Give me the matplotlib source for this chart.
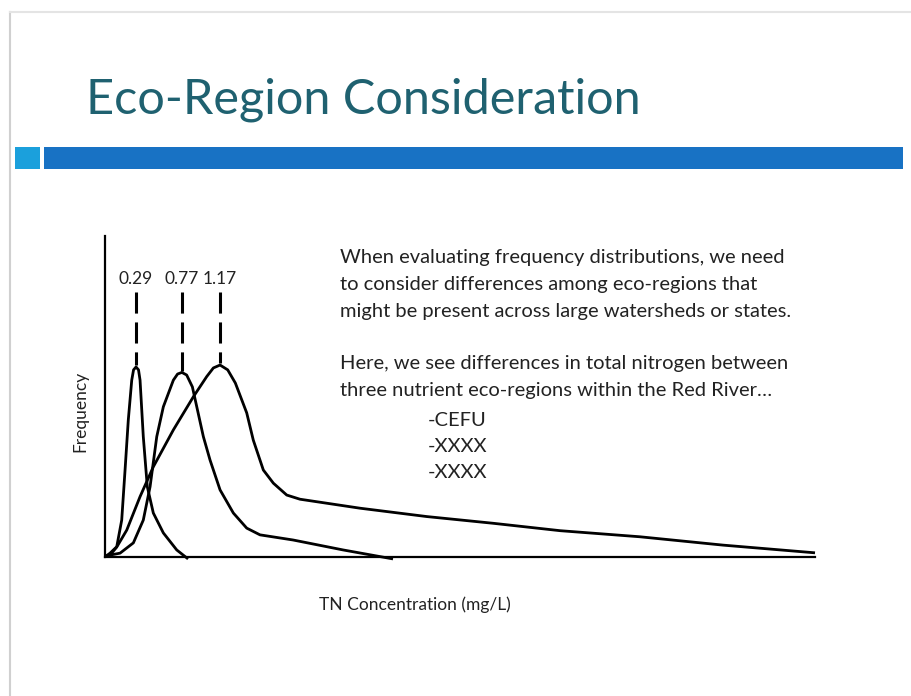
import matplotlib
matplotlib.use("Agg")
import matplotlib.pyplot as plt
import matplotlib.lines as mlines
import matplotlib.patches as mpatches

W, H = 912, 696

# TN concentration (mg/L) vs relative frequency
cefu_x = [-0.024, 0.018, 0.088, 0.140, 0.175, 0.209, 0.245, 0.264, 0.290, 0.316,
          0.332, 0.366, 0.408, 0.471, 0.576, 0.716, 0.835]
cefu_y = [0.003, 0.012, 0.032, 0.115, 0.271, 0.427, 0.551, 0.583, 0.592, 0.583,
          0.551, 0.375, 0.219, 0.137, 0.075, 0.022, -0.006]

mid_x = [-0.024, 0.018, 0.123, 0.262, 0.366, 0.437, 0.507, 0.576, 0.681, 0.725,
         0.770, 0.820, 0.880, 0.926, 0.995, 1.065, 1.170, 1.309, 1.449, 1.588,
         1.934, 2.458, 2.981]
mid_y = [0.003, 0.006, 0.012, 0.044, 0.115, 0.219, 0.375, 0.468, 0.551, 0.570,
         0.575, 0.567, 0.530, 0.468, 0.375, 0.302, 0.209, 0.137, 0.090, 0.069,
         0.053, 0.022, -0.006]

wide_x = [-0.024, 0.018, 0.088, 0.193, 0.332, 0.471, 0.681, 0.890, 1.030, 1.100,
          1.170, 1.250, 1.330, 1.449, 1.518, 1.623, 1.728, 1.868, 2.007, 2.636,
          3.334, 4.031, 4.730, 5.567, 6.437, 7.400]
wide_y = [0.003, 0.006, 0.031, 0.084, 0.188, 0.281, 0.396, 0.499, 0.562, 0.589,
          0.598, 0.583, 0.542, 0.449, 0.364, 0.271, 0.230, 0.193, 0.180, 0.152,
          0.126, 0.105, 0.082, 0.063, 0.037, 0.013]

peak_labels = ["0.29", "0.77", "1.17"]
peak_x = [0.29, 0.77, 1.17]
peak_top = [0.592, 0.575, 0.598]

title = "Eco-Region Consideration"
body = ["When evaluating frequency distributions, we need",
        "to consider differences among eco-regions that",
        "might be present across large watersheds or states.",
        "",
        "Here, we see differences in total nitrogen between",
        "three nutrient eco-regions within the Red River\u2026"]
regions = ["-CEFU", "-XXXX", "-XXXX"]

plt.rcParams['font.family'] = ['Lato', 'DejaVu Sans']

fig = plt.figure(figsize=(W / 100, H / 100), dpi=100)
fig.patch.set_facecolor('white')


def fx(px):
    return px / W


def fy(py):
    return 1 - py / H


# slide frame
fig.add_artist(mlines.Line2D([fx(10), fx(10)], [fy(12), 0], color='#d0d0d0', lw=1.5))
fig.add_artist(mlines.Line2D([fx(10), 1], [fy(12), fy(12)], color='#e4e4e4', lw=1.5))

# title + header bars
fig.text(fx(86), fy(113), title, fontsize=35, color='#1f6170', va='baseline', ha='left')
fig.add_artist(mpatches.Rectangle((fx(15), fy(169)), fx(25), (169 - 147) / H,
                                  color='#1ba0dc', lw=0))
fig.add_artist(mpatches.Rectangle((fx(44), fy(169)), fx(903 - 44), (169 - 147) / H,
                                  color='#1872c4', lw=0))

# chart
ax = fig.add_axes([fx(105), fy(557), fx(815 - 105), (557 - 236) / H])
ax.set_xlim(-0.035, 7.4)
ax.set_ylim(0, 1.0)
for xs, ys in [(cefu_x, cefu_y), (mid_x, mid_y), (wide_x, wide_y)]:
    ax.plot(xs, ys, color='black', lw=2.0, clip_on=False, solid_capstyle='butt')

for lab, px, top in zip(peak_labels, peak_x, peak_top):
    ax.plot([px, px], [0.826, top + 0.005], color='black', lw=2.2,
            dashes=(6.9, 2.9), clip_on=False)
    ax.text(px, 0.84, lab, ha='center', va='bottom', fontsize=12.5, color='#222222')

ax.spines['top'].set_visible(False)
ax.spines['right'].set_visible(False)
ax.spines['left'].set_linewidth(1.6)
ax.spines['bottom'].set_linewidth(1.6)
ax.set_xticks([])
ax.set_yticks([])
ax.patch.set_alpha(0)

fig.text(fx(80), fy(411), "Frequency", rotation=90, ha='center', va='center',
         fontsize=12.5, color='#222222')
fig.text(fx(415), fy(605), "TN Concentration (mg/L)", ha='center', va='center',
         fontsize=12.5, color='#222222')

# explanation text
y0 = 258
for i, line in enumerate(body):
    if line:
        fig.text(fx(340), fy(y0 + i * 26.5), line, fontsize=14.5, color='#222222',
                 va='center', ha='left')
for i, line in enumerate(regions):
    fig.text(fx(428), fy(420 + i * 26), line, fontsize=14.5, color='#222222',
             va='center', ha='left')

fig.savefig("out.png", dpi=100, facecolor='white')
